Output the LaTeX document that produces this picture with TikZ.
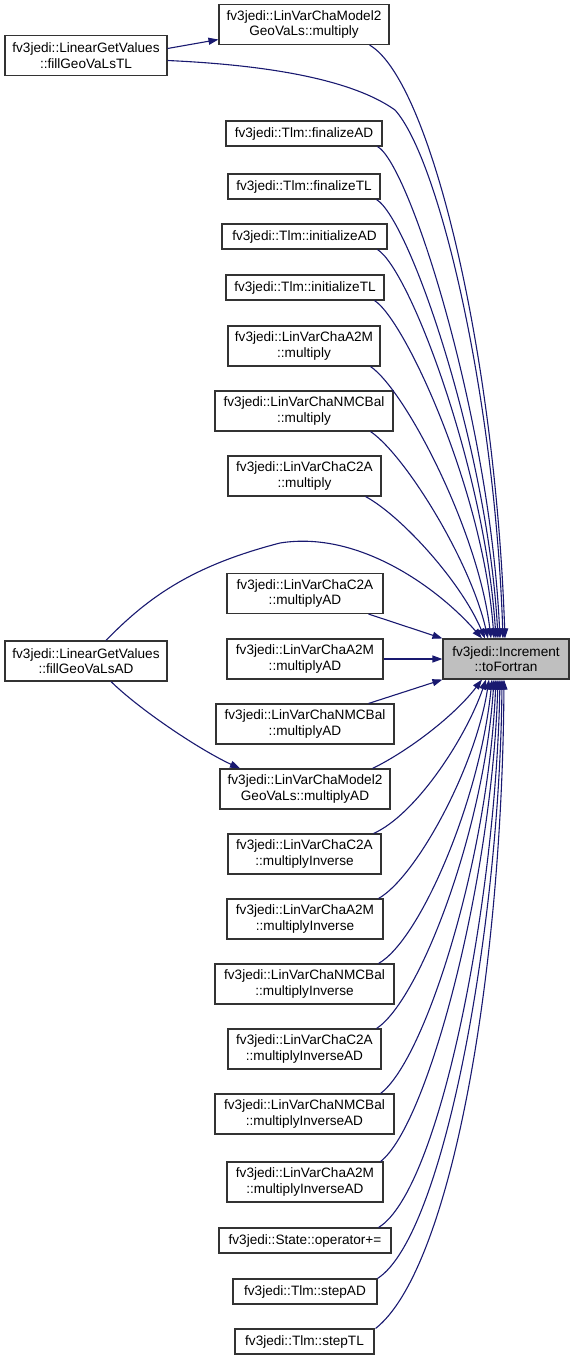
\documentclass[tikz,border=0pt]{standalone}
\usepackage{fontspec}
\setmainfont{Liberation Sans}
\usetikzlibrary{arrows.meta}
\definecolor{callblue}{HTML}{191970}
\definecolor{curgray}{HTML}{BFBFBF}
\tikzset{
  func/.style={draw=black!80, line width=1.1pt, fill=white, inner sep=0pt,
    minimum height=25pt, align=center, font=\fontsize{13.6}{15.5}\selectfont},
  func2/.style={func, minimum height=40pt},
  cur/.style={func2, fill=curgray},
  call/.style={draw=callblue, line width=1.1pt, -{Triangle[length=10pt,width=7pt]}}
}
\begin{document}
\begin{tikzpicture}[x=1pt,y=-1pt]
      \useasboundingbox (0,0) rectangle (575,1361);
      % callers on the left
      \node [func2, minimum width=162] (tl) at (86,55.5) {fv3jedi::LinearGetValues\\::fillGeoVaLsTL};
      \node [func2, minimum width=162] (ad) at (86,661) {fv3jedi::LinearGetValues\\::fillGeoVaLsAD};
      % the function itself
      \node [cur, minimum width=126] (tf) at (506,659) {fv3jedi::Increment\\::toFortran};
      % direct callers
      \node [func2, minimum width=170] (m2mul) at (304,24.5) {fv3jedi::LinVarChaModel2\\GeoVaLs::multiply};
      \node [func, minimum width=156] (fad) at (304,133.5) {fv3jedi::Tlm::finalizeAD};
      \node [func, minimum width=152] (ftl) at (304,186.5) {fv3jedi::Tlm::finalizeTL};
      \node [func, minimum width=165] (iad) at (304.5,236.5) {fv3jedi::Tlm::initializeAD};
      \node [func, minimum width=158] (itl) at (305,287.5) {fv3jedi::Tlm::initializeTL};
      \node [func2, minimum width=152] (a2mmul) at (304,346) {fv3jedi::LinVarChaA2M\\::multiply};
      \node [func2, minimum width=178] (nmcmul) at (304,411) {fv3jedi::LinVarChaNMCBal\\::multiply};
      \node [func2, minimum width=153] (c2amul) at (304.5,476) {fv3jedi::LinVarChaC2A\\::multiply};
      \node [func2, minimum width=156] (c2aad) at (305,593.5) {fv3jedi::LinVarChaC2A\\::multiplyAD};
      \node [func2, minimum width=156] (a2mad) at (305,659) {fv3jedi::LinVarChaA2M\\::multiplyAD};
      \node [func2, minimum width=178] (nmcad) at (305,724) {fv3jedi::LinVarChaNMCBal\\::multiplyAD};
      \node [func2, minimum width=170] (m2ad) at (305,789) {fv3jedi::LinVarChaModel2\\GeoVaLs::multiplyAD};
      \node [func2, minimum width=153] (c2ainv) at (304.5,854) {fv3jedi::LinVarChaC2A\\::multiplyInverse};
      \node [func2, minimum width=156] (a2minv) at (305,919) {fv3jedi::LinVarChaA2M\\::multiplyInverse};
      \node [func2, minimum width=179] (nmcinv) at (304.5,984) {fv3jedi::LinVarChaNMCBal\\::multiplyInverse};
      \node [func2, minimum width=153] (c2ainvad) at (304.5,1049) {fv3jedi::LinVarChaC2A\\::multiplyInverseAD};
      \node [func2, minimum width=179] (nmcinvad) at (304.5,1114) {fv3jedi::LinVarChaNMCBal\\::multiplyInverseAD};
      \node [func2, minimum width=156] (a2minvad) at (305,1182) {fv3jedi::LinVarChaA2M\\::multiplyInverseAD};
      \node [func, minimum width=172] (plus) at (305,1240.5) {fv3jedi::State::operator+=};
      \node [func, minimum width=144] (sad) at (305,1291.5) {fv3jedi::Tlm::stepAD};
      \node [func, minimum width=139] (stl) at (304.5,1341.5) {fv3jedi::Tlm::stepTL};
      % edges into the top of toFortran
      \draw [call] ([xshift=-20]m2mul.south east) .. controls (430,80) and (495,350) .. ([xshift=-1]tf.north);
      \draw [call] ([yshift=-5]tl.east) .. controls (290,66) and (360,85) .. (395,110)
        .. controls (440,160) and (495,400) .. ([xshift=-3]tf.north);
      \draw [call] ([xshift=-5]fad.south east) .. controls (410,165) and (490,420) .. ([xshift=-6]tf.north);
      \draw [call] ([xshift=-4]ftl.south east) .. controls (410,220) and (488,450) .. ([xshift=-8]tf.north);
      \draw [call] ([xshift=-10]iad.south east) .. controls (410,270) and (485,470) .. ([xshift=-10]tf.north);
      \draw [call] ([xshift=-10]itl.south east) .. controls (405,320) and (483,490) .. ([xshift=-12]tf.north);
      \draw [call] ([xshift=-10]a2mmul.south east) .. controls (405,390) and (478,530) .. ([xshift=-15]tf.north);
      \draw [call] ([xshift=-23]nmcmul.south east) .. controls (405,455) and (470,560) .. ([xshift=-18]tf.north);
      \draw [call] ([xshift=-16]c2amul.south east) .. controls (400,515) and (460,580) .. ([xshift=-21]tf.north);
      \draw [call] ([xshift=20]ad.north) .. controls (150,595) and (195,565) .. (280,543)
        .. controls (360,530) and (440,590) .. ([xshift=-24]tf.north);
      % edges into the left side
      \draw [call] ([xshift=-15]c2aad.south east) -- (tf.north west);
      \draw [call] (a2mad) -- (tf);
      \draw [call] ([xshift=-26]nmcad.north east) -- (tf.south west);
      % edges into the bottom of toFortran
      \draw [call] ([xshift=-18]m2ad.north east) .. controls (410,750) and (455,715) .. ([xshift=-24]tf.south);
      \draw [call] ([xshift=-8]c2ainv.north east) .. controls (415,815) and (465,740) .. ([xshift=-20]tf.south);
      \draw [call] ([xshift=-5]a2minv.north east) .. controls (415,878) and (475,770) .. ([xshift=-17]tf.south);
      \draw [call] ([xshift=-16]nmcinv.north east) .. controls (420,940) and (480,800) .. ([xshift=-14]tf.south);
      \draw [call] ([xshift=-5]c2ainvad.north east) .. controls (420,1000) and (484,830) .. ([xshift=-12]tf.south);
      \draw [call] ([xshift=-14]nmcinvad.north east) .. controls (425,1060) and (488,860) .. ([xshift=-10]tf.south);
      \draw [call] ([xshift=-3]a2minvad.north east) .. controls (428,1125) and (492,880) .. ([xshift=-8]tf.south);
      \draw [call] ([xshift=-13]plus.north east) .. controls (440,1190) and (496,900) .. ([xshift=-6]tf.south);
      \draw [call] ([xshift=0]sad.north east) .. controls (445,1235) and (500,920) .. ([xshift=-4]tf.south);
      \draw [call] ([xshift=1]stl.north east) .. controls (450,1270) and (502,980) .. ([xshift=-2]tf.south);
      % the two LinearGetValues callers into Model2GeoVaLs
      \draw [call] ([xshift=25]ad.south) .. controls (140,710) and (200,750) .. ([xshift=-65]m2ad.north);
      \draw [call] ([yshift=7]tl.east) -- ([yshift=-15]m2mul.west);
    \end{tikzpicture}
\end{document}
